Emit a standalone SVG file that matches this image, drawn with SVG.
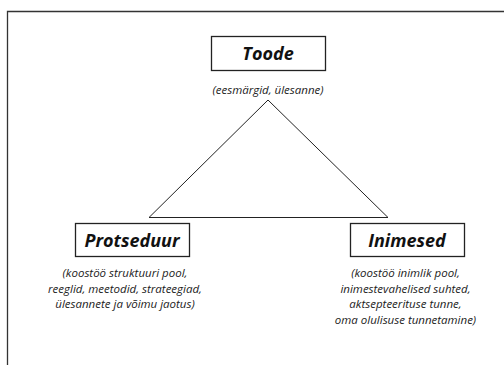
<svg xmlns="http://www.w3.org/2000/svg" width="504" height="365" viewBox="0 0 504 365">
<style>
.frame{fill:none;stroke:#333;stroke-width:1.3}
.box{fill:#fff;stroke:#222;stroke-width:1.3}
.title{font-family:"Open Sans","Noto Sans",sans-serif;font-style:italic;font-weight:bold;font-size:18px;fill:#111;text-anchor:middle}
.sub{font-family:"Open Sans","Noto Sans",sans-serif;font-style:italic;font-size:11.5px;fill:#222;text-anchor:middle}
.tri{fill:none;stroke:#222;stroke-width:1}
</style>
<rect x="0" y="0" width="504" height="365" fill="#fff"/>
<path class="frame" d="M7.5,366 V11.5 H505"/>
<g id="connectors">
<polygon class="tri" points="268,100 149,217.5 388,217.5"/>
</g>
<g id="toode">
<rect class="box" x="211.5" y="36.5" width="114" height="34"/>
<text class="title" x="268" y="60">Toode</text>
<text class="sub" x="268" y="94">(eesmärgid, ülesanne)</text>
</g>
<g id="protseduur">
<rect class="box" x="75.5" y="223.5" width="114" height="33"/>
<text class="title" x="132" y="247">Protseduur</text>
<text class="sub" x="125" y="277">(koostöö struktuuri pool,</text>
<text class="sub" x="125" y="292.5">reeglid, meetodid, strateegiad,</text>
<text class="sub" x="125" y="308">ülesannete ja võimu jaotus)</text>
</g>
<g id="inimesed">
<rect class="box" x="350.5" y="223.5" width="114" height="33"/>
<text class="title" x="407" y="247">Inimesed</text>
<text class="sub" x="405.5" y="277">(koostöö inimlik pool,</text>
<text class="sub" x="405.5" y="292.5">inimestevahelised suhted,</text>
<text class="sub" x="405.5" y="308">aktsepteerituse tunne,</text>
<text class="sub" x="405.5" y="323.5">oma olulisuse tunnetamine)</text>
</g>
</svg>
